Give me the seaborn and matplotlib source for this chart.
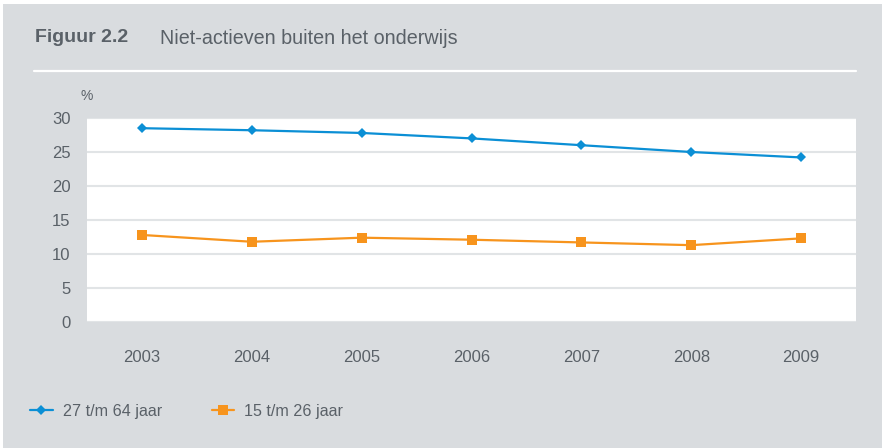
import matplotlib
matplotlib.use("Agg")
import matplotlib.pyplot as plt
from matplotlib.lines import Line2D
from matplotlib.patches import Rectangle
import seaborn as sns
import pandas as pd

years = [2003, 2004, 2005, 2006, 2007, 2008, 2009]
series_names = ["27 t/m 64 jaar", "15 t/m 26 jaar"]
values_27_64 = [28.5, 28.2, 27.8, 27.0, 26.0, 25.0, 24.2]
values_15_26 = [12.8, 11.8, 12.4, 12.1, 11.7, 11.3, 12.3]
y_ticks = [0, 5, 10, 15, 20, 25, 30]
title_num = "Figuur 2.2"
title_text = "Niet-actieven buiten het onderwijs"
unit_label = "%"

BG = "#d9dcdf"
TXT = "#5a6168"
BLUE = "#0b8fd5"
ORANGE = "#f7941d"
GRID = "#e1e4e6"

df = pd.DataFrame({
    "jaar": years * 2,
    "waarde": values_27_64 + values_15_26,
    "reeks": [series_names[0]] * len(years) + [series_names[1]] * len(years),
})

sns.set_theme(style="white")
plt.rcParams["font.family"] = ["Liberation Sans", "DejaVu Sans"]

fig = plt.figure(figsize=(8.83, 4.48), dpi=100)
fig.patch.set_facecolor("white")
fig.patches.append(Rectangle((3 / 883, 0), 879 / 883, 444 / 448, transform=fig.transFigure,
                             facecolor=BG, edgecolor="none", zorder=-10))

ax = fig.add_axes([87 / 883, 1 - 322 / 448, (856 - 87) / 883, (322 - 118) / 448])
ax.set_facecolor("white")

sns.lineplot(data=df, x="jaar", y="waarde", hue="reeks", style="reeks",
             palette={series_names[0]: BLUE, series_names[1]: ORANGE},
             markers={series_names[0]: "D", series_names[1]: "s"},
             dashes=False, linewidth=1.6, markersize=6.5, markeredgewidth=0,
             ax=ax, legend=False, zorder=3)
for ln in ax.lines:
    if ln.get_marker() == "D":
        ln.set_markersize(5.5)
    else:
        ln.set_markersize(7.5)

ax.set_xlim(2002.5, 2009.5)
ax.set_ylim(0, 30)
ax.set_yticks(y_ticks)
ax.set_xticks(years)
ax.set_xticklabels([str(y) for y in years])
ax.yaxis.grid(True, color=GRID, linewidth=1.5, zorder=0)
ax.set_axisbelow(True)
for s in ax.spines.values():
    s.set_visible(False)
ax.tick_params(axis="both", length=0, labelsize=12, labelcolor=TXT)
ax.tick_params(axis="x", pad=20)
ax.tick_params(axis="y", pad=12)
ax.set_xlabel("")
ax.set_ylabel("")

fig.text(35 / 883, 1 - 38 / 448, title_num, fontsize=14, fontweight="bold", color=TXT, va="center")
fig.text(160 / 883, 1 - 38 / 448, title_text, fontsize=14.2, color=TXT, va="center")
fig.add_artist(Line2D([34 / 883, 856 / 883], [1 - 71 / 448, 1 - 71 / 448], color="white",
                      linewidth=1.6, transform=fig.transFigure))
fig.text(87 / 883, 1 - 96 / 448, unit_label, fontsize=10, color=TXT, ha="center", va="center")

handles = [
    Line2D([], [], color=BLUE, marker="D", markersize=5.5, markeredgewidth=0, linewidth=1.6),
    Line2D([], [], color=ORANGE, marker="s", markersize=7.5, markeredgewidth=0, linewidth=1.6),
]
leg = fig.legend(handles, series_names, loc="center left",
                 bbox_to_anchor=(30 / 883, 1 - 411 / 448), ncol=2, frameon=False,
                 fontsize=11.6, handlelength=1.4, handletextpad=0.62, columnspacing=3.1,
                 borderpad=0, borderaxespad=0)
for t in leg.get_texts():
    t.set_color(TXT)

fig.savefig("out.png", dpi=100, facecolor=fig.get_facecolor())
